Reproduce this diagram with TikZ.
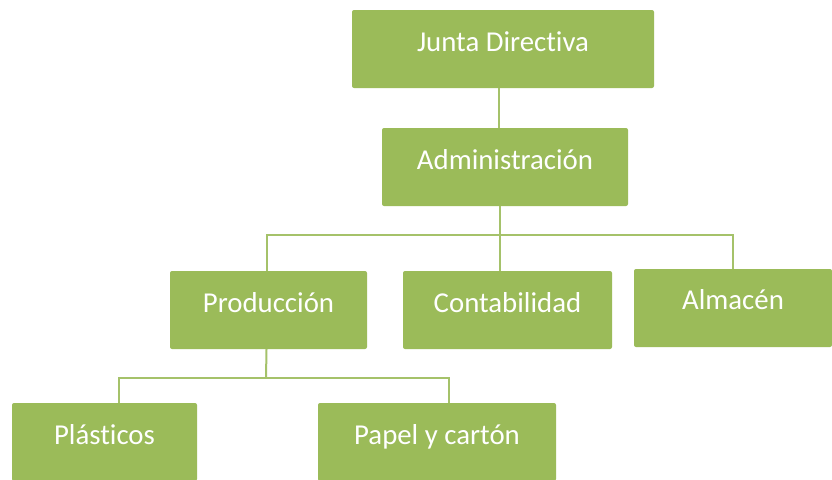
\documentclass[tikz,border=0pt]{standalone}
\usepackage{xcolor}
\usepackage{fontspec}
\setmainfont[Ligatures={NoCommon}]{Carlito}
\definecolor{olive}{HTML}{9BBB59}
\tikzset{
  unit/.style={rectangle,fill=olive,rounded corners=2pt,text=white,
    minimum height=78pt,text height=0.65em,text depth=0.2em,
    font=\fontsize{28.8}{34}\selectfont},
  link/.style={draw=olive!90!white,line width=2pt}
}

\begin{document}
\begin{tikzpicture}[x=1pt,y=-1pt]
\clip (0,0) rectangle (832,479);
% connectors
\coordinate (top) at (500,235);
\coordinate (low) at (266,378);
\node at (503,49) [unit,minimum width=302pt] (jd) {Junta Directiva};
\node at (505,167) [unit,minimum width=246pt] (adm) {Administración};
\node at (268.5,310) [unit,minimum width=197pt] (prod) {Producción};
\node at (507.5,310) [unit,minimum width=209pt] (cont) {Contabilidad};
\node at (733,308) [unit,minimum width=198pt,text depth=0.45em] (alm) {Almacén};
\node at (104.5,442) [unit,minimum width=185pt] (plas) {Plásticos};
\node at (437,442) [unit,minimum width=238pt] (pap) {Papel y cartón};
\draw[link] ([xshift=-4pt]jd.south) -- ([xshift=-6pt]adm.north);
\draw[link] ([xshift=-5pt]adm.south) -- (top);
\draw[link] ([xshift=-2pt]prod.north) |- (top) -| (alm.north);
\draw[link] (top) -- (top |- cont.north);
\draw[link] ([xshift=-2pt]prod.south) -- (low);
\draw[link] ([xshift=14pt]plas.north) |- (low) -| ([xshift=12pt]pap.north);
\end{tikzpicture}
\end{document}
